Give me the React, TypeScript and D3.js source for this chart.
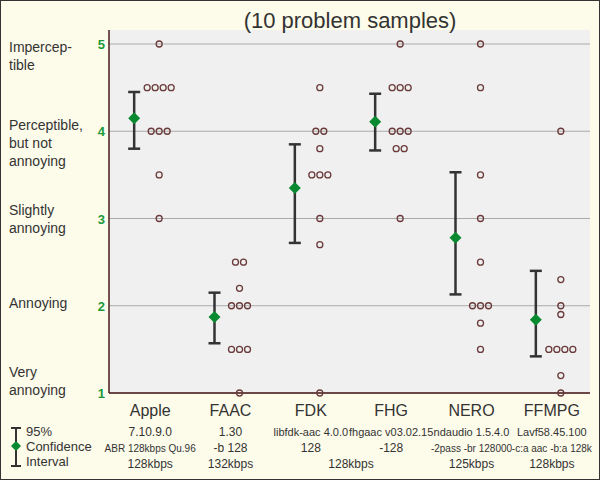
import React from "react";
import * as d3 from "d3";

const categories = ["Apple", "FAAC", "FDK", "FHG", "NERO", "FFMPG"];
const line1 = ["7.10.9.0", "1.30", "libfdk-aac 4.0.0", "fhgaac v03.02.15", "ndaudio 1.5.4.0", "Lavf58.45.100"];
const line2 = ["ABR 128kbps Qu.96", "-b 128", "128", "-128", "-2pass -br 128000", "-c:a aac -b:a 128k"];
const bitrates = [
  { label: "128kbps", from: 0, to: 0 },
  { label: "132kbps", from: 1, to: 1 },
  { label: "128kbps", from: 2, to: 3 },
  { label: "125kbps", from: 4, to: 4 },
  { label: "128kbps", from: 5, to: 5 },
];
const scores = [
  [5, 4.5, 4.5, 4.5, 4.5, 4, 4, 4, 3.5, 3],
  [2.5, 2.5, 2.2, 2, 2, 2, 1.5, 1.5, 1.5, 1],
  [4.5, 4, 4, 3.8, 3.5, 3.5, 3.5, 3, 2.7, 1],
  [5, 4.5, 4.5, 4.5, 4, 4, 4, 3.8, 3.8, 3],
  [5, 4.5, 3.5, 3, 2.5, 2, 2, 2, 1.8, 1.5],
  [4, 2.3, 2, 1.9, 1.5, 1.5, 1.5, 1.5, 1.2, 1],
];
const means = [4.15, 1.87, 3.35, 4.11, 2.78, 1.84];
const ciLow = [3.8, 1.57, 2.72, 3.78, 2.13, 1.42];
const ciHigh = [4.45, 2.15, 3.85, 4.43, 3.53, 2.4];
const ticks = [1, 2, 3, 4, 5];
const tickLabels: Record<number, string[]> = {
  5: ["Impercep-", "tible"],
  4: ["Perceptible,", "but not", "annoying"],
  3: ["Slightly", "annoying"],
  2: ["Annoying"],
  1: ["Very", "annoying"],
};
const labelY: Record<number, number> = { 5: 52, 4: 130, 3: 215, 2: 308, 1: 377 };

export default function App() {
  const W = 600, H = 480;
  const left = 109, right = 590, top = 44, bottom = 393;
  const y = d3.scaleLinear().domain([1, 5]).range([bottom, top]);
  const x = d3.scaleBand().domain(categories).range([110, 592]);
  const cx = (c: string) => (x(c) as number) + x.bandwidth() / 2;
  const font = "Arial, 'Liberation Sans', sans-serif";
  const txt = "#333";
  return (
    <svg width={W} height={H} style={{ position: "absolute", left: 0, top: 0 }} fontFamily={font}>
      <rect x={0.5} y={0.5} width={W - 1} height={H - 1} fill="#fdfbea" stroke="#333" />
      <rect x={left} y={top - 14} width={right - left} height={bottom - top + 14} fill="#f0f0f0" />
      <text x={350} y={28} textAnchor="middle" fontSize={22} fill={txt}>(10 problem samples)</text>
      {ticks.map((t) => (
        <g key={t}>
          <line x1={left} x2={right} y1={y(t)} y2={y(t)} stroke="#aaa" />
          <text x={105} y={y(t) + 5} textAnchor="end" fontSize={13} fontWeight="bold" fill="#1a9a3a">{t}</text>
          {tickLabels[t].map((s, i) => (
            <text key={i} x={9} y={labelY[t] + i * 18} fontSize={14} fill={txt}>{s}</text>
          ))}
        </g>
      ))}
      <line x1={left} x2={left} y1={top - 14} y2={bottom} stroke="#4a1a1a" strokeWidth={1.5} />
      <line x1={left} x2={right} y1={bottom} y2={bottom} stroke="#4a1a1a" strokeWidth={1.5} />
      {categories.map((c, i) => {
        const mx = cx(c) - 16;
        const dx = cx(c) + 9;
        const groups = d3.group(scores[i], (v) => v);
        return (
          <g key={c}>
            <line x1={mx} x2={mx} y1={y(ciLow[i])} y2={y(ciHigh[i])} stroke="#333" strokeWidth={2.5} />
            <line x1={mx - 6} x2={mx + 6} y1={y(ciLow[i])} y2={y(ciLow[i])} stroke="#333" strokeWidth={2.5} />
            <line x1={mx - 6} x2={mx + 6} y1={y(ciHigh[i])} y2={y(ciHigh[i])} stroke="#333" strokeWidth={2.5} />
            <path d={`M${mx},${y(means[i]) - 6}l6,6l-6,6l-6,-6z`} fill="#0a8a30" />
            {Array.from(groups).flatMap(([v, arr]) =>
              arr.map((_, k) => (
                <circle key={`${v}-${k}`} cx={dx + (k - (arr.length - 1) / 2) * 8} cy={y(v)} r={3} fill="none" stroke="#6b3a3a" strokeWidth={1.3} />
              ))
            )}
            <text x={cx(c)} y={416} textAnchor="middle" fontSize={16} fill={txt}>{c}</text>
            <text x={cx(c)} y={436} textAnchor="middle" fontSize={line1[i].length > 12 ? 11 : 12} fill={txt}>{line1[i]}</text>
            <text x={cx(c)} y={452} textAnchor="middle" fontSize={line2[i].length > 12 ? 10 : 12} fill={txt}>{line2[i]}</text>
          </g>
        );
      })}
      {bitrates.map((b, i) => (
        <text key={i} x={(cx(categories[b.from]) + cx(categories[b.to])) / 2} y={468} textAnchor="middle" fontSize={12} fill={txt}>{b.label}</text>
      ))}
      <g>
        <line x1={16} x2={16} y1={428} y2={466} stroke="#333" strokeWidth={2} />
        <line x1={11} x2={21} y1={428} y2={428} stroke="#333" strokeWidth={2} />
        <line x1={11} x2={21} y1={466} y2={466} stroke="#333" strokeWidth={2} />
        <path d="M16,441l5,5l-5,5l-5,-5z" fill="#0a8a30" />
        <text x={26} y={436} fontSize={13} fill={txt}>95%</text>
        <text x={26} y={451} fontSize={13} fill={txt}>Confidence</text>
        <text x={26} y={466} fontSize={13} fill={txt}>Interval</text>
      </g>
    </svg>
  );
}
